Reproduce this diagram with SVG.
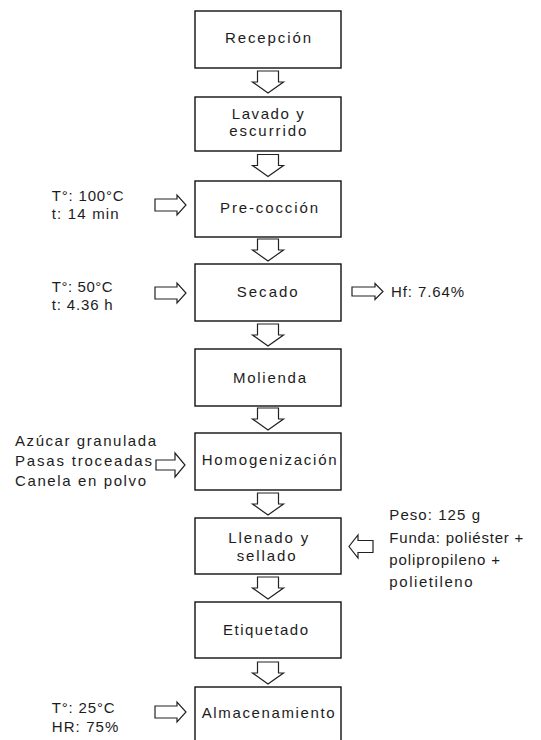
<svg xmlns="http://www.w3.org/2000/svg" width="541" height="740" viewBox="0 0 541 740">
<style>
  .box { fill: #ffffff; stroke: #111; stroke-width: 1.4; }
  .arr { fill: #ffffff; stroke: #222; stroke-width: 1.2; stroke-linejoin: miter; }
  text { font-family: "Liberation Sans", Arial, sans-serif; font-size: 15px; fill: #1c1c1c; }
</style>
<defs>
  <path id="down" d="M-10.5,0 H10.5 V11 H15.5 L0,22 L-15.5,11 H-10.5 Z"/>
  <path id="right" d="M0,-6 H22 V-10 L31,0 L22,10 V6 H0 Z"/>
</defs>
<rect width="541" height="740" fill="#ffffff"/>

<g id="connectors">
  <use href="#down" class="arr" x="268" y="71"/>
  <use href="#down" class="arr" x="268" y="154.5"/>
  <use href="#down" class="arr" x="268" y="239"/>
  <use href="#down" class="arr" x="268" y="324"/>
  <use href="#down" class="arr" x="268" y="408"/>
  <use href="#down" class="arr" x="268" y="493"/>
  <use href="#down" class="arr" x="268" y="577"/>
  <use href="#down" class="arr" x="268" y="662"/>
  <use href="#right" class="arr" x="155" y="205"/>
  <use href="#right" class="arr" x="155" y="293"/>
  <path class="arr" d="M352,287 H375 V283.5 L383,291.5 L375,299.5 V296 H352 Z"/>
  <path class="arr" d="M156,460 H175 V453 L185,465 L175,477 V470 H156 Z"/>
  <path class="arr" d="M373,540.5 H358 V535 L349,546.5 L358,558 V552.5 H373 Z"/>
  <use href="#right" class="arr" x="155" y="712"/>
</g>

<g id="recepcion">
  <rect class="box" x="195" y="11" width="146" height="57"/>
  <text x="225" y="43" textLength="86" lengthAdjust="spacing">Recepción</text>
</g>
<g id="lavado">
  <rect class="box" x="195" y="97" width="146" height="54"/>
  <text x="231.7" y="118.5" textLength="72" lengthAdjust="spacing">Lavado y</text>
  <text x="229.3" y="136" textLength="77" lengthAdjust="spacing">escurrido</text>
</g>
<g id="precoccion">
  <rect class="box" x="195" y="181" width="146" height="56"/>
  <text x="220" y="213" textLength="98" lengthAdjust="spacing">Pre-cocción</text>
</g>
<g id="secado">
  <rect class="box" x="195" y="264" width="146" height="57"/>
  <text x="236.7" y="296.7" textLength="61" lengthAdjust="spacing">Secado</text>
</g>
<g id="molienda">
  <rect class="box" x="195" y="349" width="146" height="57"/>
  <text x="233" y="383.3" textLength="73" lengthAdjust="spacing">Molienda</text>
</g>
<g id="homogenizacion">
  <rect class="box" x="195" y="433" width="146" height="57"/>
  <text x="201.7" y="465" textLength="135" lengthAdjust="spacing">Homogenización</text>
</g>
<g id="llenado">
  <rect class="box" x="195" y="518" width="146" height="56"/>
  <text x="228.3" y="542.5" textLength="80" lengthAdjust="spacing">Llenado y</text>
  <text x="236.7" y="561" textLength="59" lengthAdjust="spacing">sellado</text>
</g>
<g id="etiquetado">
  <rect class="box" x="195" y="602" width="146" height="56"/>
  <text x="223" y="635" textLength="85" lengthAdjust="spacing">Etiquetado</text>
</g>
<g id="almacenamiento">
  <rect class="box" x="195" y="687" width="146" height="60"/>
  <text x="201.7" y="718.3" textLength="133" lengthAdjust="spacing">Almacenamiento</text>
</g>

<g id="label-precoccion">
  <text x="51.7" y="201" textLength="72" lengthAdjust="spacing">T°: 100°C</text>
  <text x="51.7" y="219.3" textLength="67" lengthAdjust="spacing">t: 14 min</text>
</g>
<g id="label-secado">
  <text x="51.7" y="291.7" textLength="61" lengthAdjust="spacing">T°: 50°C</text>
  <text x="51.7" y="310" textLength="61" lengthAdjust="spacing">t: 4.36 h</text>
</g>
<g id="label-hf">
  <text x="391" y="296.7" textLength="73" lengthAdjust="spacing">Hf: 7.64%</text>
</g>
<g id="label-homogenizacion">
  <text x="15" y="446" textLength="141" lengthAdjust="spacing">Azúcar granulada</text>
  <text x="15" y="466" textLength="137" lengthAdjust="spacing">Pasas troceadas</text>
  <text x="15" y="486" textLength="131" lengthAdjust="spacing">Canela en polvo</text>
</g>
<g id="label-llenado">
  <text x="389.3" y="520" textLength="90.7" lengthAdjust="spacing">Peso: 125 g</text>
  <text x="389.3" y="543.3" textLength="134" lengthAdjust="spacing">Funda: poliéster +</text>
  <text x="389.3" y="565" textLength="110.7" lengthAdjust="spacing">polipropileno +</text>
  <text x="389.3" y="587" textLength="83.3" lengthAdjust="spacing">polietileno</text>
</g>
<g id="label-almacenamiento">
  <text x="51.7" y="712.7" textLength="63" lengthAdjust="spacing">T°: 25°C</text>
  <text x="51.7" y="731.7" textLength="66.7" lengthAdjust="spacing">HR: 75%</text>
</g>
</svg>
